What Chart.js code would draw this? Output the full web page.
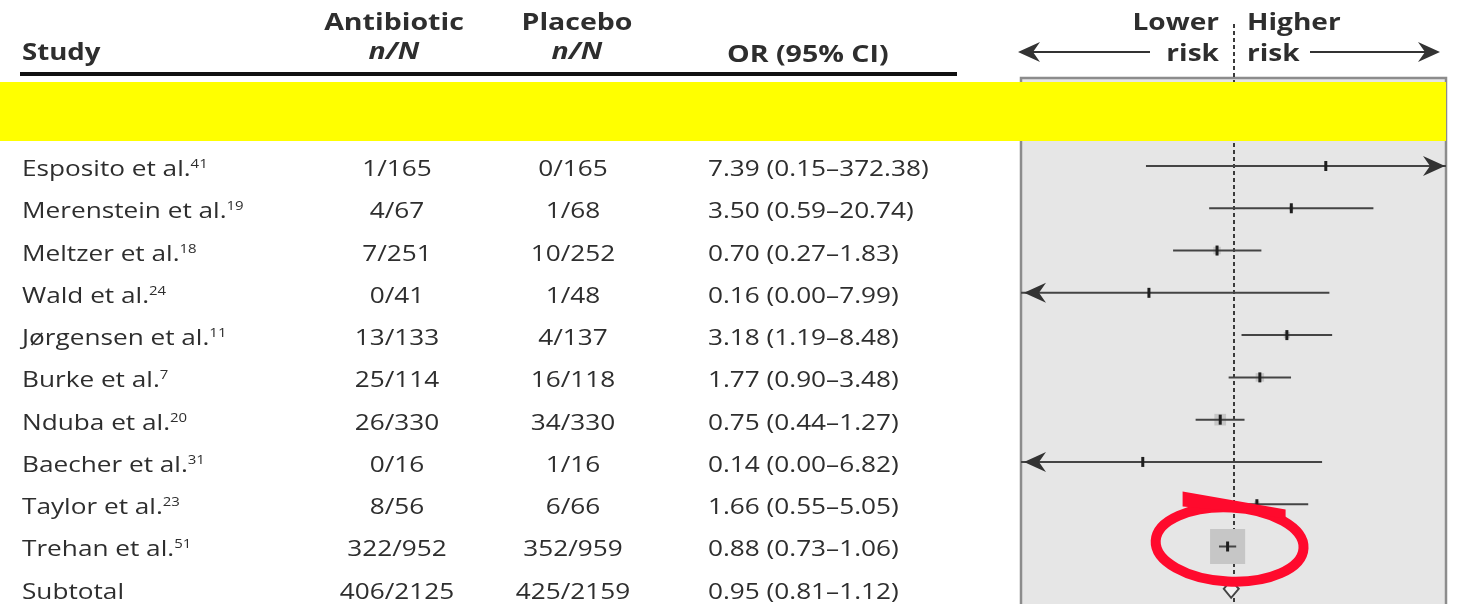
<!DOCTYPE html>
<html>
<head>
<meta charset="utf-8">
<script src="https://cdn.jsdelivr.net/npm/chart.js@4.4.1/dist/chart.umd.min.js"></script>
<style>
  html, body { margin: 0; padding: 0; background: #fff; overflow: hidden; }
  #forest { display: block; }
</style>
</head>
<body>
<canvas id="forest" width="1476" height="640"></canvas>
<script>
// study rows, top to bottom
const studies = ["Esposito et al.", "Merenstein et al.", "Meltzer et al.", "Wald et al.", "Jørgensen et al.",
  "Burke et al.", "Nduba et al.", "Baecher et al.", "Taylor et al.", "Trehan et al.", "Subtotal"];
const refs = ["41", "19", "18", "24", "11", "7", "20", "31", "23", "51", ""];
const antibiotic = ["1/165", "4/67", "7/251", "0/41", "13/133", "25/114", "26/330", "0/16", "8/56", "322/952", "406/2125"];
const placebo = ["0/165", "1/68", "10/252", "1/48", "4/137", "16/118", "34/330", "1/16", "6/66", "352/959", "425/2159"];
const oddsRatio = [7.39, 3.50, 0.70, 0.16, 3.18, 1.77, 0.75, 0.14, 1.66, 0.88, 0.95];
const ciLower = [0.15, 0.59, 0.27, 0.00, 1.19, 0.90, 0.44, 0.00, 0.55, 0.73, 0.81];
const ciUpper = [372.38, 20.74, 1.83, 7.99, 8.48, 3.48, 1.27, 6.82, 5.05, 1.06, 1.12];
// study weights (%), size of the grey boxes
const weights = [0.3, 1.2, 3.5, 0.2, 2.5, 4.5, 8.5, 0.2, 2.0, 76.9];

const X_MIN = 0.01, X_MAX = 100;
const SUBTOTAL = studies.length - 1;
const nStudies = SUBTOTAL;
const HIGHLIGHT = 9; // Trehan

const fmt = v => v.toFixed(2);
const clampX = v => Math.min(X_MAX, Math.max(X_MIN, v));

// CI segments as one broken line
const ciData = [];
for (let i = 0; i < nStudies; i++) {
  ciData.push({ x: clampX(ciLower[i]), y: i }, { x: clampX(ciUpper[i]), y: i }, { x: null, y: null });
}
const pointData = oddsRatio.slice(0, nStudies).map((v, i) => ({ x: v, y: i }));

const FONT = '"Open Sans", "DejaVu Sans", sans-serif';
const REG = `22px ${FONT}`;
const BOLD = `bold 23px ${FONT}`;
const TEXT = "#2e2e2e";

// the table type is set a little wide
function text(ctx, str, x, y, align, font, sx) {
  ctx.save();
  ctx.font = font;
  ctx.textAlign = align;
  ctx.translate(x, y);
  ctx.scale(sx, 1);
  ctx.fillText(str, 0, 0);
  const w = ctx.measureText(str).width * sx;
  ctx.restore();
  return w;
}

function arrowHead(ctx, x, y, dir) {
  // dir = 1 points right, -1 points left
  ctx.beginPath();
  ctx.moveTo(x, y);
  ctx.lineTo(x - dir * 22, y - 10);
  ctx.lineTo(x - dir * 15, y);
  ctx.lineTo(x - dir * 22, y + 10);
  ctx.closePath();
  ctx.fill();
}

const forestPlugin = {
  id: "forest",
  beforeDatasetsDraw(chart) {
    const { ctx, chartArea: a, scales: { x } } = chart;
    ctx.save();
    ctx.fillStyle = "#e6e6e6";
    ctx.fillRect(a.left, a.top, a.right - a.left, a.bottom - a.top);
    ctx.strokeStyle = "#8c8c8c";
    ctx.lineWidth = 2.5;
    ctx.strokeRect(a.left, a.top, a.right - a.left, a.bottom - a.top);
    // no-effect line at OR = 1
    const x1 = Math.round(x.getPixelForValue(1));
    ctx.strokeStyle = "#3a3a3a";
    ctx.lineWidth = 2;
    ctx.setLineDash([4, 3]);
    ctx.beginPath();
    ctx.moveTo(x1, 24);
    ctx.lineTo(x1, a.bottom);
    ctx.stroke();
    ctx.restore();
  },
  afterDatasetsDraw(chart) {
    const { ctx, chartArea: a, scales: { x, y } } = chart;
    ctx.save();
    ctx.fillStyle = "#333";
    // arrows where the interval runs off the axis
    for (let i = 0; i < nStudies; i++) {
      const py = y.getPixelForValue(i);
      if (ciLower[i] < X_MIN) arrowHead(ctx, a.left + 3, py, -1);
      if (ciUpper[i] > X_MAX) arrowHead(ctx, a.right - 1, py, 1);
    }
    // pooled diamond
    const dy = y.getPixelForValue(SUBTOTAL);
    ctx.beginPath();
    ctx.moveTo(x.getPixelForValue(ciLower[SUBTOTAL]), dy);
    ctx.lineTo(x.getPixelForValue(oddsRatio[SUBTOTAL]), dy - 9);
    ctx.lineTo(x.getPixelForValue(ciUpper[SUBTOTAL]), dy);
    ctx.lineTo(x.getPixelForValue(oddsRatio[SUBTOTAL]), dy + 9);
    ctx.closePath();
    ctx.fillStyle = "#f2f2f2";
    ctx.fill();
    ctx.strokeStyle = "#444";
    ctx.lineWidth = 2;
    ctx.stroke();

    // table rows
    ctx.fillStyle = TEXT;
    ctx.textBaseline = "alphabetic";
    for (let i = 0; i < studies.length; i++) {
      const by = y.getPixelForValue(i) + 10;
      const w = text(ctx, studies[i], 22, by, "left", REG, 1.19);
      if (refs[i]) text(ctx, refs[i], 22 + w, by - 8, "left", `13px ${FONT}`, 1.15);
      text(ctx, antibiotic[i], 397, by, "center", REG, 1.19);
      text(ctx, placebo[i], 573, by, "center", REG, 1.19);
      text(ctx, `${fmt(oddsRatio[i])} (${fmt(ciLower[i])}–${fmt(ciUpper[i])})`, 708, by, "left", REG, 1.19);
    }

    // column headers
    text(ctx, "Study", 22, 60, "left", BOLD, 1.2);
    text(ctx, "OR (95% CI)", 727, 62, "left", BOLD, 1.24);
    text(ctx, "Antibiotic", 394, 30, "center", BOLD, 1.24);
    text(ctx, "Placebo", 577, 30, "center", BOLD, 1.24);
    text(ctx, "n/N", 394, 59, "center", `italic ${BOLD}`, 1.24);
    text(ctx, "n/N", 577, 59, "center", `italic ${BOLD}`, 1.24);
    ctx.fillStyle = "#111";
    ctx.fillRect(20, 72, 937, 4);

    // direction labels above the plot
    ctx.fillStyle = TEXT;
    text(ctx, "Lower", 1219, 30, "right", BOLD, 1.22);
    text(ctx, "risk", 1219, 61, "right", BOLD, 1.22);
    text(ctx, "Higher", 1247, 30, "left", BOLD, 1.22);
    text(ctx, "risk", 1247, 61, "left", BOLD, 1.22);
    ctx.strokeStyle = "#333";
    ctx.lineWidth = 2;
    ctx.beginPath();
    ctx.moveTo(1024, 52); ctx.lineTo(1150, 52);
    ctx.moveTo(1310, 52); ctx.lineTo(1434, 52);
    ctx.stroke();
    ctx.fillStyle = "#333";
    arrowHead(ctx, 1018, 52, -1);
    arrowHead(ctx, 1440, 52, 1);

    // highlight band and ring around the largest study
    ctx.fillStyle = "#ffff00";
    ctx.fillRect(0, 82, 1446, 59);

    const cx = x.getPixelForValue(oddsRatio[HIGHLIGHT]);
    const cy = y.getPixelForValue(HIGHLIGHT);
    ctx.strokeStyle = "#ff0a2d";
    ctx.fillStyle = "#ff0a2d";
    ctx.lineWidth = 10;
    ctx.beginPath();
    ctx.ellipse(cx + 2, cy - 2, 74, 37, 0.05, 0, Math.PI * 2);
    ctx.stroke();
    ctx.beginPath();
    ctx.moveTo(cx - 45, cy - 55);
    ctx.lineTo(cx + 58, cy - 37);
    ctx.lineTo(cx + 58, cy - 28);
    ctx.lineTo(cx, cy - 36);
    ctx.lineTo(cx - 45, cy - 40);
    ctx.closePath();
    ctx.fill();
    ctx.restore();
  }
};

new Chart(document.getElementById("forest"), {
  type: "scatter",
  data: {
    datasets: [
      {
        label: "weight",
        data: pointData,
        pointStyle: "rect",
        pointRadius: weights.map(w => 4 * Math.sqrt(w) / Math.SQRT2),
        backgroundColor: "#c6c6c6",
        borderWidth: 0,
        order: 3
      },
      {
        label: "95% CI",
        data: ciData,
        showLine: true,
        spanGaps: false,
        borderColor: "#444",
        borderWidth: 2,
        pointRadius: 0,
        order: 2
      },
      {
        label: "OR",
        data: pointData,
        pointStyle: "line",
        rotation: 90,
        pointRadius: 5,
        borderColor: "#1e1e1e",
        borderWidth: 3,
        order: 1
      }
    ]
  },
  options: {
    responsive: false,
    animation: false,
    events: [],
    layout: { autoPadding: false, padding: { left: 1021, right: 30, top: 78, bottom: 10 } },
    plugins: { legend: { display: false }, tooltip: { enabled: false } },
    scales: {
      x: { type: "logarithmic", min: X_MIN, max: X_MAX, display: false },
      y: { type: "linear", reverse: true, min: -2.081, max: 10.975, display: false }
    }
  },
  plugins: [forestPlugin]
});
</script>
</body>
</html>
